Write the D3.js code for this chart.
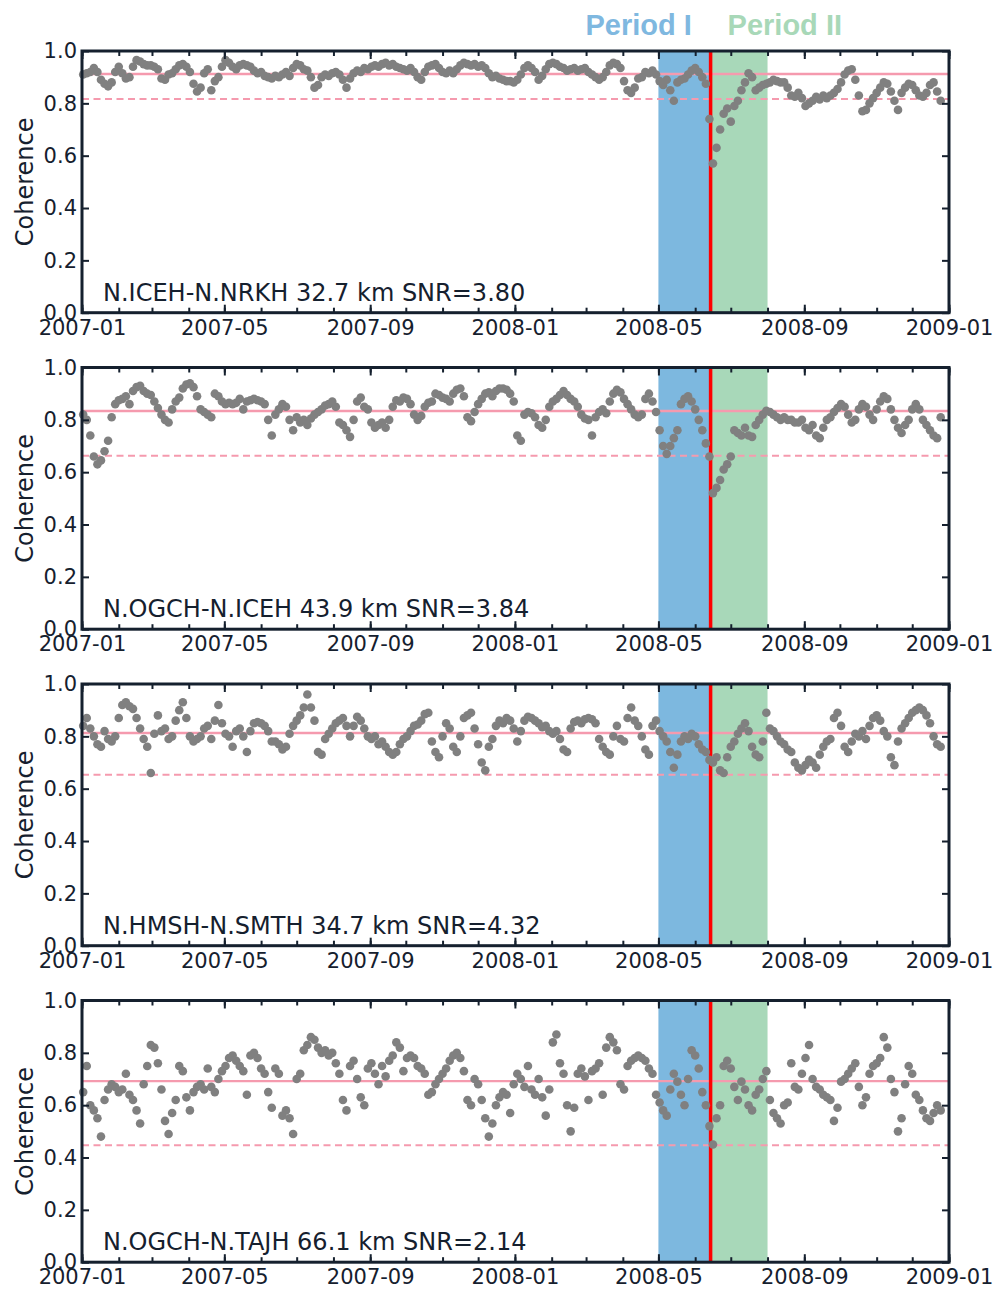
<!DOCTYPE html>
<html>
<head>
<meta charset="utf-8">
<script src="https://cdn.jsdelivr.net/npm/d3@7"></script>
<style>
  body { margin: 0; background: #fff; }
  svg text { font-family: "DejaVu Sans", sans-serif; fill: #15202e; }
</style>
</head>
<body>
<div id="chart"></div>
<script>
// ---- data ----
const pairLabels = [
  "N.ICEH-N.NRKH 32.7 km SNR=3.80",
  "N.OGCH-N.ICEH 43.9 km SNR=3.84",
  "N.HMSH-N.SMTH 34.7 km SNR=4.32",
  "N.OGCH-N.TAJH 66.1 km SNR=2.14"
];
const meanLevels = [0.912, 0.834, 0.813, 0.692];
const lowLevels = [0.817, 0.663, 0.653, 0.447];

// one sample every 3 days starting at firstDay
const firstDay = "2007-01-02";
const dayStep = 3;

const coh1 = [
  0.91,0.915,0.92,0.935,0.92,0.89,0.875,0.865,0.88,0.92,
  0.94,0.915,0.895,0.9,0.94,0.965,0.96,0.95,0.945,0.945,
  0.94,0.93,0.895,0.89,0.91,0.915,0.93,0.945,0.95,0.94,
  0.92,0.875,0.845,0.86,0.915,0.93,0.85,0.885,0.9,0.94,
  0.965,0.955,0.94,0.93,0.945,0.95,0.945,0.94,0.925,0.915,
  0.92,0.905,0.9,0.895,0.905,0.9,0.91,0.92,0.905,0.935,
  0.95,0.945,0.93,0.925,0.9,0.86,0.87,0.9,0.91,0.905,
  0.915,0.92,0.91,0.89,0.86,0.895,0.915,0.925,0.92,0.935,
  0.93,0.94,0.945,0.94,0.95,0.955,0.945,0.95,0.94,0.935,
  0.93,0.925,0.935,0.92,0.9,0.89,0.92,0.94,0.945,0.95,
  0.935,0.92,0.915,0.925,0.915,0.93,0.945,0.955,0.95,0.945,
  0.95,0.94,0.945,0.935,0.915,0.9,0.905,0.895,0.89,0.885,
  0.885,0.88,0.89,0.91,0.935,0.945,0.935,0.92,0.89,0.905,
  0.93,0.95,0.955,0.95,0.94,0.935,0.925,0.93,0.935,0.925,
  0.93,0.935,0.92,0.91,0.9,0.89,0.9,0.92,0.945,0.955,
  0.95,0.935,0.885,0.85,0.84,0.86,0.895,0.9,0.92,0.915,
  0.925,0.91,0.885,0.87,0.89,0.85,0.81,0.88,0.89,0.895,
  0.91,0.925,0.935,0.92,0.9,0.875,0.74,0.57,0.63,0.7,
  0.76,0.78,0.73,0.79,0.81,0.85,0.88,0.915,0.9,0.85,
  0.86,0.87,0.875,0.88,0.89,0.885,0.88,0.88,0.86,0.83,
  0.825,0.84,0.82,0.79,0.8,0.81,0.825,0.815,0.83,0.82,
  0.83,0.84,0.855,0.88,0.91,0.925,0.93,0.89,0.83,0.77,
  0.775,0.8,0.82,0.84,0.86,0.88,0.875,0.845,0.81,0.775,
  0.84,0.86,0.875,0.87,0.85,0.83,0.825,0.84,0.87,0.88,
  0.845,0.81
];
const coh2 = [
  0.82,0.8,0.74,0.66,0.63,0.645,0.68,0.72,0.81,0.86,
  0.875,0.88,0.89,0.86,0.91,0.925,0.93,0.91,0.9,0.895,
  0.87,0.845,0.82,0.8,0.79,0.84,0.87,0.885,0.92,0.935,
  0.94,0.925,0.89,0.84,0.83,0.82,0.81,0.9,0.89,0.87,
  0.86,0.865,0.86,0.865,0.88,0.84,0.87,0.875,0.88,0.875,
  0.87,0.86,0.8,0.74,0.82,0.84,0.86,0.85,0.8,0.76,
  0.81,0.79,0.8,0.78,0.805,0.82,0.83,0.84,0.855,0.86,
  0.87,0.85,0.79,0.78,0.76,0.735,0.8,0.87,0.885,0.85,
  0.84,0.79,0.77,0.78,0.79,0.77,0.8,0.85,0.875,0.87,
  0.885,0.88,0.86,0.82,0.8,0.815,0.85,0.865,0.87,0.9,
  0.895,0.885,0.88,0.87,0.9,0.915,0.92,0.89,0.81,0.795,
  0.83,0.86,0.88,0.9,0.905,0.89,0.91,0.92,0.92,0.915,
  0.9,0.87,0.74,0.72,0.82,0.83,0.825,0.81,0.78,0.77,
  0.8,0.85,0.87,0.88,0.895,0.91,0.895,0.88,0.87,0.85,
  0.82,0.805,0.8,0.74,0.81,0.83,0.84,0.825,0.87,0.9,
  0.915,0.905,0.88,0.86,0.84,0.82,0.81,0.82,0.88,0.9,
  0.87,0.83,0.76,0.7,0.67,0.7,0.73,0.76,0.86,0.88,
  0.89,0.87,0.84,0.8,0.76,0.71,0.66,0.52,0.54,0.57,
  0.61,0.63,0.66,0.76,0.75,0.74,0.77,0.74,0.735,0.78,
  0.8,0.82,0.835,0.83,0.82,0.81,0.8,0.81,0.8,0.8,
  0.79,0.79,0.8,0.77,0.76,0.78,0.74,0.73,0.77,0.8,
  0.81,0.83,0.845,0.86,0.85,0.82,0.79,0.8,0.84,0.86,
  0.85,0.82,0.8,0.84,0.87,0.89,0.88,0.84,0.8,0.77,
  0.75,0.78,0.8,0.84,0.86,0.84,0.8,0.78,0.76,0.74,
  0.73,0.81
];
const coh3 = [
  0.84,0.87,0.83,0.8,0.77,0.76,0.82,0.79,0.78,0.8,
  0.87,0.92,0.93,0.915,0.905,0.87,0.83,0.79,0.76,0.66,
  0.81,0.88,0.82,0.83,0.79,0.8,0.86,0.9,0.93,0.87,
  0.8,0.78,0.79,0.8,0.83,0.84,0.79,0.86,0.92,0.85,
  0.81,0.8,0.76,0.82,0.83,0.8,0.74,0.82,0.85,0.855,
  0.85,0.84,0.82,0.78,0.78,0.77,0.75,0.76,0.81,0.84,
  0.86,0.88,0.91,0.96,0.91,0.86,0.74,0.73,0.79,0.81,
  0.83,0.85,0.86,0.87,0.84,0.8,0.84,0.875,0.86,0.83,
  0.8,0.79,0.8,0.77,0.78,0.76,0.74,0.73,0.74,0.77,
  0.79,0.8,0.82,0.84,0.845,0.86,0.885,0.89,0.78,0.74,
  0.72,0.8,0.85,0.83,0.76,0.74,0.8,0.87,0.88,0.89,
  0.83,0.77,0.7,0.67,0.76,0.79,0.84,0.86,0.85,0.87,
  0.86,0.83,0.78,0.82,0.86,0.875,0.87,0.86,0.85,0.835,
  0.84,0.82,0.81,0.82,0.79,0.75,0.74,0.83,0.855,0.86,
  0.85,0.865,0.87,0.865,0.85,0.79,0.76,0.74,0.73,0.8,
  0.84,0.79,0.78,0.87,0.91,0.86,0.84,0.8,0.75,0.73,
  0.84,0.86,0.82,0.8,0.78,0.74,0.68,0.73,0.78,0.8,
  0.79,0.81,0.8,0.77,0.75,0.74,0.71,0.7,0.72,0.67,
  0.66,0.72,0.76,0.78,0.81,0.83,0.85,0.82,0.76,0.73,
  0.72,0.78,0.89,0.83,0.82,0.8,0.78,0.77,0.75,0.74,
  0.7,0.68,0.67,0.69,0.71,0.7,0.68,0.73,0.76,0.78,
  0.79,0.87,0.89,0.84,0.76,0.74,0.78,0.81,0.8,0.82,
  0.79,0.84,0.87,0.88,0.86,0.82,0.8,0.72,0.69,0.78,
  0.83,0.85,0.87,0.89,0.9,0.91,0.9,0.88,0.85,0.8,
  0.77,0.76
];
const coh4 = [
  0.65,0.75,0.6,0.58,0.55,0.48,0.62,0.66,0.68,0.67,
  0.65,0.66,0.72,0.64,0.62,0.58,0.53,0.68,0.75,0.83,
  0.82,0.76,0.66,0.54,0.49,0.57,0.62,0.75,0.73,0.63,
  0.58,0.65,0.67,0.68,0.66,0.74,0.67,0.65,0.7,0.73,
  0.75,0.78,0.79,0.77,0.75,0.73,0.64,0.79,0.8,0.78,
  0.74,0.72,0.65,0.59,0.74,0.72,0.56,0.58,0.55,0.49,
  0.7,0.72,0.81,0.83,0.86,0.85,0.82,0.8,0.81,0.79,
  0.8,0.76,0.72,0.62,0.58,0.75,0.77,0.7,0.63,0.6,
  0.74,0.76,0.72,0.68,0.75,0.71,0.77,0.79,0.84,0.82,
  0.73,0.78,0.79,0.78,0.75,0.74,0.72,0.64,0.65,0.68,
  0.7,0.72,0.74,0.77,0.79,0.8,0.78,0.73,0.62,0.6,
  0.7,0.68,0.62,0.55,0.48,0.53,0.6,0.63,0.65,0.64,
  0.57,0.68,0.72,0.7,0.67,0.75,0.66,0.64,0.7,0.63,
  0.56,0.66,0.84,0.87,0.76,0.72,0.6,0.5,0.59,0.72,
  0.74,0.71,0.62,0.73,0.74,0.76,0.64,0.82,0.86,0.84,
  0.81,0.68,0.66,0.75,0.77,0.78,0.79,0.78,0.77,0.74,
  0.72,0.64,0.61,0.58,0.56,0.66,0.72,0.69,0.64,0.6,
  0.7,0.81,0.79,0.74,0.65,0.6,0.52,0.45,0.55,0.6,
  0.75,0.77,0.74,0.67,0.62,0.69,0.66,0.6,0.58,0.64,
  0.66,0.7,0.73,0.62,0.57,0.55,0.53,0.6,0.61,0.76,
  0.67,0.66,0.72,0.78,0.83,0.7,0.67,0.66,0.64,0.63,
  0.62,0.54,0.59,0.69,0.7,0.72,0.74,0.76,0.67,0.6,
  0.63,0.72,0.75,0.76,0.78,0.86,0.82,0.7,0.65,0.5,
  0.55,0.68,0.75,0.72,0.64,0.62,0.58,0.55,0.54,0.57,
  0.6,0.58
];
const series = [coh1, coh2, coh3, coh4];

const periodI = ["2008-05-01", "2008-06-14"];
const periodII = ["2008-06-14", "2008-08-01"];
const quakeDay = "2008-06-14";
const yTickValues = [0, 0.2, 0.4, 0.6, 0.8, 1.0];

// ---- layout ----
const width = 1007, height = 1289;
const left = 82, right = 949;
const panelTop0 = 51, panelStep = 316.5, panelH = 261.7;
const ink = "#15202e";

const parse = d3.utcParse("%Y-%m-%d");
const start = parse(firstDay);

const svg = d3.select("#chart").append("svg")
  .attr("width", width)
  .attr("height", height);

const x = d3.scaleUtc()
  .domain([parse("2007-01-01"), parse("2009-01-01")])
  .range([left, right]);

const majorTicks = d3.utcMonth.every(4).range(parse("2007-01-01"), parse("2009-01-02"));
const minorTicks = d3.utcMonth.range(parse("2007-01-01"), parse("2009-01-02"));

// period titles above the first panel
svg.append("text")
  .attr("x", x(parse(periodI[0])) - 73)
  .attr("y", 35)
  .style("font-family", "'Liberation Sans', Arial, sans-serif")
  .style("font-size", "29px")
  .style("font-weight", "bold")
  .style("fill", "#7fb8e0")
  .text("Period I");
svg.append("text")
  .attr("x", x(parse(periodII[0])) + 17)
  .attr("y", 35)
  .style("font-family", "'Liberation Sans', Arial, sans-serif")
  .style("font-size", "29px")
  .style("font-weight", "bold")
  .style("fill", "#a8d8b8")
  .text("Period II");

series.forEach((vals, p) => {
  const top = panelTop0 + p * panelStep;
  const bottom = top + panelH;
  const y = d3.scaleLinear().domain([0, 1]).range([bottom, top]);
  const g = svg.append("g");

  // shaded periods
  g.append("rect")
    .attr("x", x(parse(periodI[0])))
    .attr("y", top)
    .attr("width", x(parse(periodI[1])) - x(parse(periodI[0])))
    .attr("height", panelH)
    .attr("fill", "#7db8df");
  g.append("rect")
    .attr("x", x(parse(periodII[0])))
    .attr("y", top)
    .attr("width", x(parse(periodII[1])) - x(parse(periodII[0])))
    .attr("height", panelH)
    .attr("fill", "#a8d8b9");

  // mean and threshold lines
  g.append("line")
    .attr("x1", left).attr("x2", right)
    .attr("y1", y(meanLevels[p])).attr("y2", y(meanLevels[p]))
    .attr("stroke", "#f59aae").attr("stroke-width", 2.4);
  g.append("line")
    .attr("x1", left).attr("x2", right)
    .attr("y1", y(lowLevels[p])).attr("y2", y(lowLevels[p]))
    .attr("stroke", "#f59aae").attr("stroke-width", 2)
    .attr("stroke-dasharray", "7,4.5");

  // earthquake
  g.append("line")
    .attr("x1", x(parse(quakeDay))).attr("x2", x(parse(quakeDay)))
    .attr("y1", top).attr("y2", bottom)
    .attr("stroke", "#ff0000").attr("stroke-width", 3.5);

  // coherence points
  g.selectAll(".pt")
    .data(vals)
    .enter()
    .append("circle")
      .attr("class", "pt")
      .attr("cx", (d, i) => x(d3.utcDay.offset(start, i * dayStep)))
      .attr("cy", d => y(d))
      .attr("r", 4.3)
      .attr("fill", "#808080");

  // axes, ticks pointing inward
  const xb = g.append("g")
    .attr("transform", `translate(0,${bottom})`)
    .call(d3.axisBottom(x).tickValues(majorTicks)
      .tickFormat(d3.utcFormat("%Y-%m"))
      .tickSizeInner(-8).tickSizeOuter(0).tickPadding(7));
  xb.selectAll("text").style("font-size", "21px");

  g.append("g")
    .attr("transform", `translate(0,${bottom})`)
    .call(d3.axisBottom(x).tickValues(minorTicks).tickFormat("")
      .tickSizeInner(-5).tickSizeOuter(0));

  g.append("g")
    .attr("transform", `translate(0,${top})`)
    .call(d3.axisTop(x).tickValues(majorTicks).tickFormat("")
      .tickSizeInner(-8).tickSizeOuter(0));
  g.append("g")
    .attr("transform", `translate(0,${top})`)
    .call(d3.axisTop(x).tickValues(minorTicks).tickFormat("")
      .tickSizeInner(-5).tickSizeOuter(0));

  const yl = g.append("g")
    .attr("transform", `translate(${left},0)`)
    .call(d3.axisLeft(y).tickValues(yTickValues)
      .tickFormat(d3.format(".1f"))
      .tickSizeInner(-7).tickSizeOuter(0).tickPadding(5));
  yl.selectAll("text").style("font-size", "21px");

  g.append("g")
    .attr("transform", `translate(${right},0)`)
    .call(d3.axisRight(y).tickValues(yTickValues).tickFormat("")
      .tickSizeInner(-7).tickSizeOuter(0));

  g.selectAll(".domain").remove();
  g.selectAll(".tick line").attr("stroke", ink).attr("stroke-width", 2);
  g.selectAll(".tick text").style("fill", ink);

  // frame
  g.append("rect")
    .attr("x", left).attr("y", top)
    .attr("width", right - left).attr("height", panelH)
    .attr("fill", "none")
    .attr("stroke", ink)
    .attr("stroke-width", 3);

  // y label
  g.append("text")
    .attr("transform", `translate(25,${(top + bottom) / 2}) rotate(-90)`)
    .attr("text-anchor", "middle")
    .attr("dominant-baseline", "central")
    .style("font-size", "24px")
    .text("Coherence");

  // station pair annotation
  g.append("text")
    .attr("x", left + 21)
    .attr("y", bottom - 12)
    .style("font-size", "24px")
    .text(pairLabels[p]);
});
</script>
</body>
</html>
